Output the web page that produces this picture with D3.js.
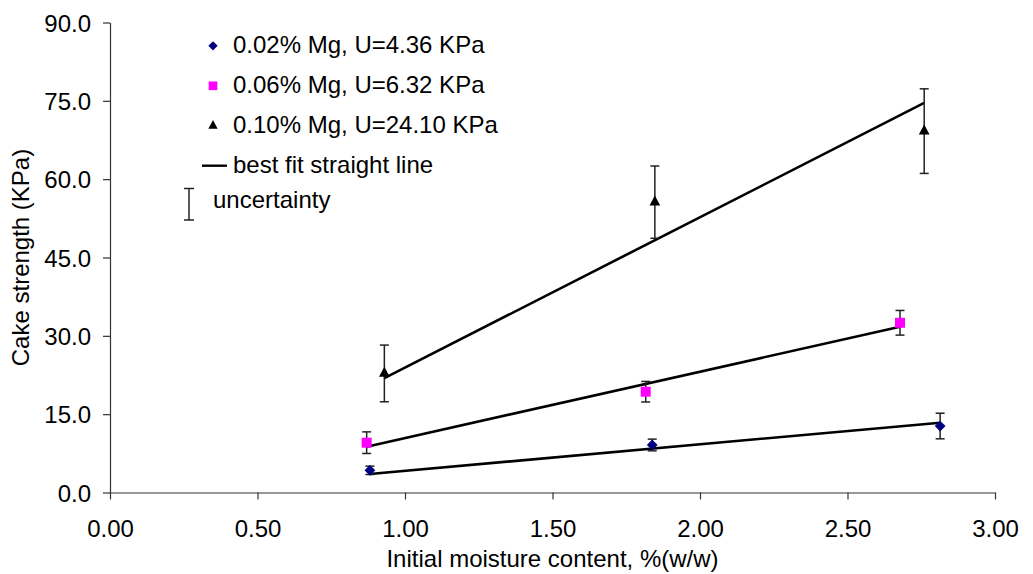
<!DOCTYPE html>
<html>
<head>
<meta charset="utf-8">
<script src="https://cdn.jsdelivr.net/npm/d3@7"></script>
<style>
  html, body { margin: 0; padding: 0; background: #fff; }
  svg { display: block; font-family: "Liberation Sans", Arial, sans-serif; }
</style>
</head>
<body>
<svg id="chart" width="1033" height="574"></svg>
<script>
// Measured cake strength vs initial moisture content, three Mg levels
const seriesNames = ["0.02% Mg, U=4.36 KPa", "0.06% Mg, U=6.32 KPa", "0.10% Mg, U=24.10 KPa"];

const moistureLow  = [0.881, 1.838, 2.814];
const strengthLow  = [4.25, 9.10, 12.73];
const errorLow     = [0.8, 1.12, 2.45];

const moistureMid  = [0.870, 1.816, 2.678];
const strengthMid  = [9.54, 19.3, 32.5];
const errorMid     = [2.07, 1.97, 2.36];

const moistureHigh = [0.930, 1.847, 2.760];
const strengthHigh = [22.8, 55.6, 69.2];
const errorHigh    = [5.43, 6.92, 8.1];

// Best fit straight lines: strength at the first and last moisture level
const fitLow  = [3.54, 13.37];
const fitMid  = [8.77, 31.75];
const fitHigh = [21.9, 74.6];

const xTicks = [0, 0.5, 1, 1.5, 2, 2.5, 3];
const yTicks = [0, 15, 30, 45, 60, 75, 90];

const xTitle = "Initial moisture content, %(w/w)";
const yTitle = "Cake strength (KPa)";
const fitLabel = "best fit straight line";
const errLabel = "uncertainty";

const series = [
  { name: seriesNames[0], x: moistureLow,  y: strengthLow,  e: errorLow,  fit: fitLow,  shape: "diamond",  color: "#000080" },
  { name: seriesNames[1], x: moistureMid,  y: strengthMid,  e: errorMid,  fit: fitMid,  shape: "square",   color: "#ff00ff" },
  { name: seriesNames[2], x: moistureHigh, y: strengthHigh, e: errorHigh, fit: fitHigh, shape: "triangle", color: "#000000" }
];

const svg = d3.select("#chart");
const FONT = 24;

const x = d3.scaleLinear().domain([0, 3]).range([110, 995]);
const y = d3.scaleLinear().domain([0, 90]).range([492.5, 22.5]);

function markerPath(shape, scale) {
  if (shape === "diamond") return d3.symbol(d3.symbolSquare, 58 * scale)();
  if (shape === "square") return d3.symbol(d3.symbolSquare, 100 * scale)();
  const w = 10.7 * Math.sqrt(scale), h = 10 * Math.sqrt(scale);
  return `M0,${-2 * h / 3}L${w / 2},${h / 3}L${-w / 2},${h / 3}Z`;
}
function markerRotate(shape) { return shape === "diamond" ? " rotate(45)" : ""; }

// Axes
const xAxis = d3.axisBottom(x).tickValues(xTicks).tickFormat(d3.format(".2f")).tickSizeOuter(0).tickSizeInner(7).tickPadding(20);
const yAxis = d3.axisLeft(y).tickValues(yTicks).tickFormat(d3.format(".1f")).tickSizeOuter(0).tickSizeInner(7).tickPadding(12);

const gx = svg.append("g").attr("transform", `translate(0,${y(0)})`).call(xAxis);
const gy = svg.append("g").attr("transform", `translate(${x(0)},0)`).call(yAxis);
[gx, gy].forEach(g => {
  g.select(".domain").attr("stroke", "#333").attr("stroke-width", 1.2);
  g.selectAll(".tick line").attr("stroke", "#333").attr("stroke-width", 1.2);
  g.selectAll(".tick text").attr("fill", "#000").attr("font-size", FONT).attr("font-family", '"Liberation Sans", Arial, sans-serif');
});
gy.selectAll(".tick text").attr("dy", "0.36em");

// Axis titles
svg.append("text")
  .attr("x", (x(0) + x(3)) / 2).attr("y", 567)
  .attr("text-anchor", "middle").attr("font-size", FONT).attr("fill", "#000")
  .text(xTitle);
svg.append("text")
  .attr("transform", `translate(29,${(y(0) + y(90)) / 2}) rotate(-90)`)
  .attr("text-anchor", "middle").attr("font-size", FONT).attr("fill", "#000")
  .text(yTitle);

// Best fit lines
series.forEach(s => {
  const n = s.x.length;
  svg.append("line")
    .attr("x1", x(s.x[0])).attr("y1", y(s.fit[0]))
    .attr("x2", x(s.x[n - 1])).attr("y2", y(s.fit[1]))
    .attr("stroke", "#000").attr("stroke-width", 2.6);
});

// Error bars
const CAP = 4.5;
series.forEach(s => {
  const g = svg.append("g").attr("stroke", "#222").attr("stroke-width", 1.5);
  s.x.forEach((xv, i) => {
    const cx = x(xv), top = y(s.y[i] + s.e[i]), bot = y(s.y[i] - s.e[i]);
    g.append("line").attr("x1", cx).attr("x2", cx).attr("y1", top).attr("y2", bot);
    g.append("line").attr("x1", cx - CAP).attr("x2", cx + CAP).attr("y1", top).attr("y2", top);
    g.append("line").attr("x1", cx - CAP).attr("x2", cx + CAP).attr("y1", bot).attr("y2", bot);
  });
});

// Data markers
series.forEach(s => {
  svg.append("g").selectAll("path").data(s.x.map((xv, i) => [xv, s.y[i]])).join("path")
    .attr("d", markerPath(s.shape, 1))
    .attr("transform", d => `translate(${x(d[0])},${y(d[1])})${markerRotate(s.shape)}`)
    .attr("fill", s.color);
});

// Legend
const legend = svg.append("g");
const rowBase = [53.3, 93.3, 133.3];
series.forEach((s, i) => {
  legend.append("path")
    .attr("d", markerPath(s.shape, 0.75))
    .attr("transform", `translate(213,${rowBase[i] - 7.5})${markerRotate(s.shape)}`)
    .attr("fill", s.color);
  legend.append("text").attr("x", 233).attr("y", rowBase[i])
    .attr("font-size", FONT).attr("fill", "#000").text(s.name);
});
legend.append("line").attr("x1", 202).attr("x2", 227).attr("y1", 165.7).attr("y2", 165.7)
  .attr("stroke", "#000").attr("stroke-width", 2.4);
legend.append("text").attr("x", 233).attr("y", 173.3)
  .attr("font-size", FONT).attr("fill", "#000").text(fitLabel);
const eg = legend.append("g").attr("stroke", "#222").attr("stroke-width", 1.5);
eg.append("line").attr("x1", 189).attr("x2", 189).attr("y1", 188.5).attr("y2", 220);
eg.append("line").attr("x1", 184).attr("x2", 194).attr("y1", 188.5).attr("y2", 188.5);
eg.append("line").attr("x1", 184).attr("x2", 194).attr("y1", 220).attr("y2", 220);
legend.append("text").attr("x", 213).attr("y", 208.3)
  .attr("font-size", FONT).attr("fill", "#000").text(errLabel);
</script>
</body>
</html>
